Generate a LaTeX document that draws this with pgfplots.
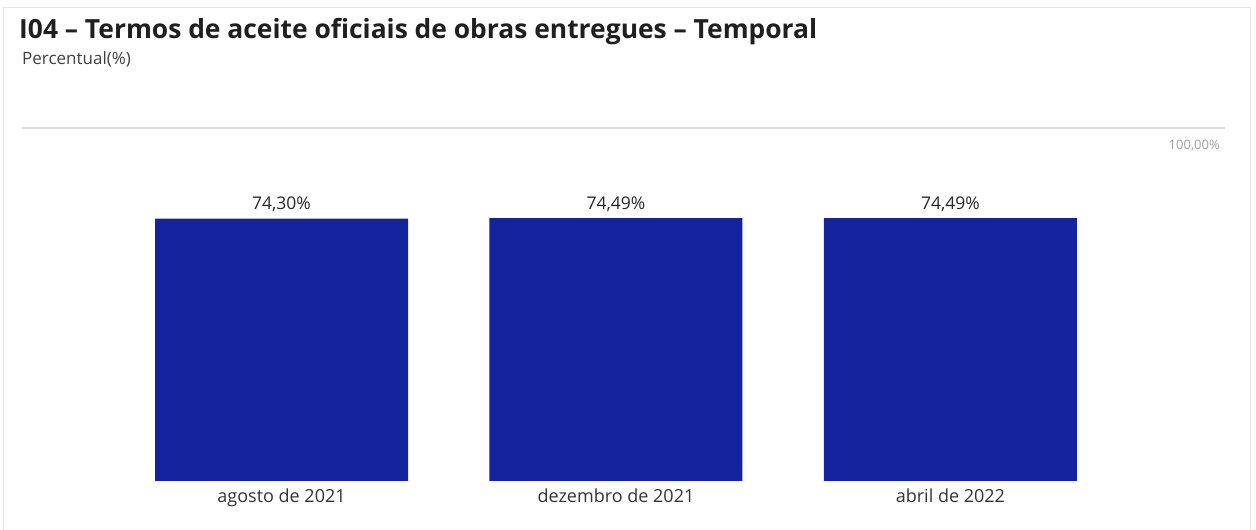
\documentclass[border=0pt]{standalone}
\usepackage{pgfplots}
\pgfplotsset{compat=1.18}
\usepackage{fontspec}
\setmainfont{Open Sans}
\definecolor{barblue}{RGB}{20,35,158}
\definecolor{frame}{RGB}{228,228,228}
\definecolor{gridc}{RGB}{220,220,220}
\begin{document}
\begin{tikzpicture}
\useasboundingbox (0,0) rectangle (1256pt,530pt);
\draw[color=frame, line width=1pt] (3pt,-2pt) rectangle (1250pt,522pt);
\node[anchor=base west, inner sep=0pt, font=\fontsize{26.4}{30}\selectfont\bfseries, text=black!88] at (19pt,491.5pt) {I04 – Termos de aceite oficiais de obras entregues – Temporal};
\node[anchor=base west, inner sep=0pt, font=\fontsize{17}{20}\selectfont, text=black!75] at (22pt,465pt) {Percentual(\%)};
\begin{axis}[at={(22pt,49pt)}, anchor=south west, scale only axis,
  width=1203pt, height=353pt,
  xmin=-0.776, xmax=2.821, ymin=0, ymax=100,
  axis line style={draw=none}, tick style={draw=none}, major tick length=0pt,
  ytick={100}, yticklabels={}, ymajorgrids,
  grid style={line width=2.5pt, color=gridc},
  xtick={0,1,2}, xticklabels={agosto de 2021, dezembro de 2021, abril de 2022},
  xticklabel style={font=\fontsize{18}{21}\selectfont, text=black!80, anchor=base, inner sep=0pt, yshift=-22pt},
  ybar, bar width=253pt, bar shift=0pt, clip=false,
  /pgf/number format/assume math mode=true,
  nodes near coords={\pgfmathprintnumber[fixed, fixed zerofill, precision=2, use comma]{\pgfplotspointmeta}\%},
  nodes near coords align={anchor=base},
  every node near coord/.append style={font=\fontsize{17.5}{20}\selectfont, text=black!85, inner sep=0pt, yshift=9pt}]
\addplot[fill=barblue, draw=none] coordinates {(0,74.30) (1,74.49) (2,74.49)};
\node[anchor=north east, inner sep=0pt, font=\fontsize{13}{15}\selectfont, text=gray!75] at (axis cs:2.806,96.5) {100,00\%};
\end{axis}
\end{tikzpicture}
\end{document}
